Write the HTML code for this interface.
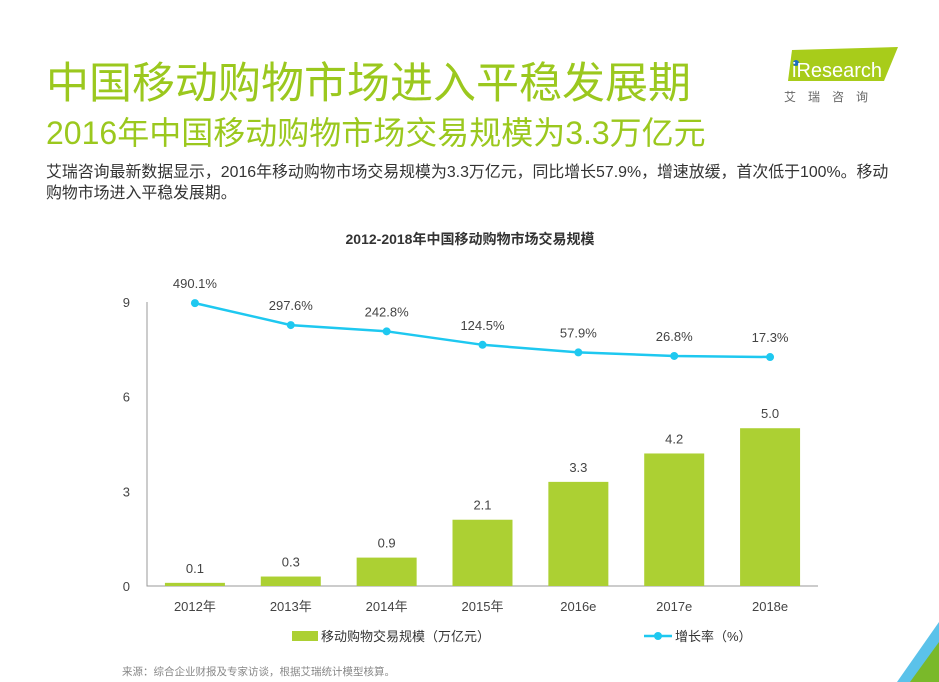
<!DOCTYPE html>
<html><head><meta charset="utf-8"><style>
body{margin:0;width:939px;height:682px;overflow:hidden;background:#fff;font-family:"Liberation Sans","Noto Sans CJK SC",sans-serif;position:relative}
.t1{position:absolute;left:46px;top:49px;font-size:43px;color:#9bc81e;white-space:nowrap;letter-spacing:0px}
.t2{position:absolute;left:46px;top:108px;font-size:32px;color:#9bc81e;white-space:nowrap}
.desc{position:absolute;left:46px;top:162px;width:855px;font-size:15.9px;line-height:21px;color:#333}
.src{position:absolute;left:122px;top:664px;font-size:10.5px;color:#888}
</style></head><body>
<div class="t1">中国移动购物市场进入平稳发展期</div>
<div class="t2">2016年中国移动购物市场交易规模为3.3万亿元</div>
<div class="desc">艾瑞咨询最新数据显示，2016年移动购物市场交易规模为3.3万亿元，同比增长57.9%，增速放缓，首次低于100%。移动<br>购物市场进入平稳发展期。</div>
<div style="position:absolute;left:780px;top:45px;width:130px;height:65px">
<svg width="130" height="65"><polygon points="12,5 118,2 104,36 8,36" fill="#a8cc1a"/><circle cx="16" cy="18" r="3" fill="#1e6fc0"/><text x="12" y="32" font-size="20" fill="#fff" font-family="Liberation Sans">iResearch</text>
<text x="4" y="56" font-size="12" fill="#666" font-family="Noto Sans CJK SC" letter-spacing="12">艾瑞咨询</text></svg></div>
<div class="src">来源：综合企业财报及专家访谈，根据艾瑞统计模型核算。</div>
<svg style="position:absolute;left:0;top:0" width="939" height="682"><polygon points="897,682 939,622 939,682" fill="#5bc2ea"/><polygon points="910,682 939,642 939,682" fill="#7ab92a"/></svg>
<svg id="chart" style="position:absolute;left:0;top:0" width="939" height="682"></svg>
<script>
const categories=["2012年","2013年","2014年","2015年","2016e","2017e","2018e"];
const values=[0.1,0.3,0.9,2.1,3.3,4.2,5.0];
const valueLabels=["0.1","0.3","0.9","2.1","3.3","4.2","5.0"];
const rates=[490.1,297.6,242.8,124.5,57.9,26.8,17.3];
const rateLabels=["490.1%","297.6%","242.8%","124.5%","57.9%","26.8%","17.3%"];
const yTicks=[0,3,6,9];
const NS="http://www.w3.org/2000/svg";
const svg=document.getElementById("chart");
function mk(tag,attrs,txt){const e=document.createElementNS(NS,tag);for(const k in attrs)e.setAttribute(k,attrs[k]);if(txt!==undefined)e.textContent=txt;svg.appendChild(e);return e;}
const x0=147,x1=818,yB=586,yT=302;
const y=v=>yB-(v/9)*(yB-yT);
const yr=r=>359-r*0.114;
const bw=(x1-x0)/categories.length;
const xc=i=>x0+bw*(i+0.5);
let t=mk("text",{x:470,y:244,"font-size":14,"font-weight":"bold","text-anchor":"middle",fill:"#333"},"2012-2018年中国移动购物市场交易规模");


let ax=mk("path",{d:`M${x0},${yT} V${yB} H${x1}`,stroke:"#999",fill:"none","stroke-width":1});


yTicks.forEach(v=>{const e=mk("text",{x:130,y:y(v)+5,"font-size":13,"text-anchor":"end",fill:"#444"},String(v));

});
categories.forEach((c,i)=>{
const r=mk("rect",{x:xc(i)-30,y:y(values[i]),width:60,height:yB-y(values[i]),fill:"#acd033"});


const l=mk("text",{x:xc(i),y:y(values[i])-10,"font-size":13,"text-anchor":"middle",fill:"#444"},valueLabels[i]);


const xl=mk("text",{x:xc(i),y:611,"font-size":13,"text-anchor":"middle",fill:"#444"},c);


});
const ln=mk("polyline",{points:rates.map((r,i)=>xc(i)+","+yr(r)).join(" "),fill:"none",stroke:"#1ec8f0","stroke-width":2.5});


rates.forEach((r,i)=>{
const p=mk("circle",{cx:xc(i),cy:yr(r),r:4,fill:"#1ec8f0"});


const l=mk("text",{x:xc(i),y:yr(r)-15,"font-size":13,"text-anchor":"middle",fill:"#444"},rateLabels[i]);


});
const lg1=mk("rect",{x:292,y:631,width:26,height:10,fill:"#acd033"});


const lt1=mk("text",{x:321,y:641,"font-size":13,fill:"#333"},"移动购物交易规模（万亿元）");


const lg2=mk("line",{x1:644,y1:636,x2:672,y2:636,stroke:"#1ec8f0","stroke-width":2.5});


const lg3=mk("circle",{cx:658,cy:636,r:4,fill:"#1ec8f0"});


const lt2=mk("text",{x:675,y:641,"font-size":13,fill:"#333"},"增长率（%）");


</script>
</body></html>
